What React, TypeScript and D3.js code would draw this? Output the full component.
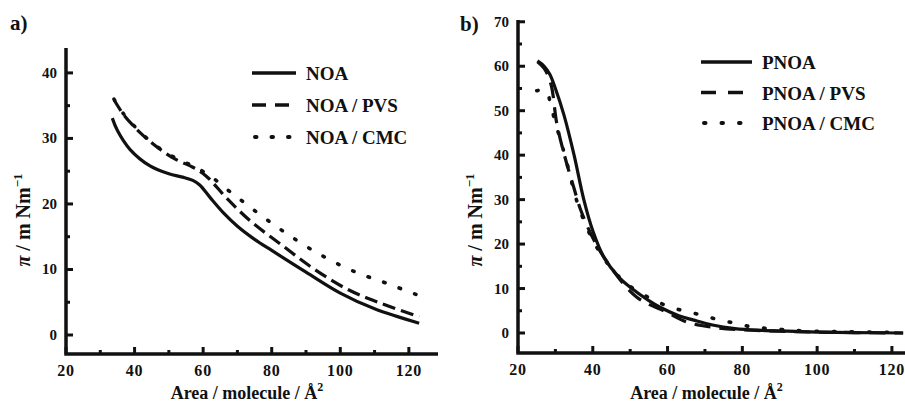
import * as d3 from 'd3';
import React from 'react';

// panel a) NOA isotherms
const noaArea = [33.5, 35, 38.7, 44.5, 50, 54, 57, 59, 62, 66, 70, 75, 80, 90, 100, 110, 123];
const noaPi = [33.1, 31.2, 28.3, 25.8, 24.6, 24.1, 23.6, 22.9, 21.0, 18.6, 16.6, 14.6, 12.9, 9.6, 6.4, 4.0, 1.8];
const noaPvsArea = [34, 37, 42, 47, 52, 57, 61, 67, 74, 83, 92, 102, 112, 123];
const noaPvsPi = [35.9, 33.5, 30.7, 28.5, 26.8, 25.6, 24.2, 20.8, 17.3, 13.7, 10.2, 7.0, 4.8, 2.8];
const noaCmcArea = [34, 37, 42, 47, 52, 57, 62, 67, 71, 76, 81, 86, 94, 104, 114, 123];
const noaCmcPi = [36, 33.6, 30.8, 28.6, 27, 25.8, 24.3, 22.2, 20.6, 18.6, 16.7, 14.9, 12.3, 9.7, 7.8, 6.0];

// panel b) PNOA isotherms
const pnoaArea = [25.2, 27, 28.5, 30, 32.3, 35, 37.6, 40, 43, 47, 50, 55, 58, 63, 67, 72, 78, 85, 92, 100, 110, 123];
const pnoaPi = [61.2, 60.0, 58.2, 55.0, 49, 40, 30, 23, 17, 12.5, 10.3, 7.3, 5.8, 3.9, 2.9, 1.8, 1.0, 0.6, 0.4, 0.2, 0.1, 0];
const pnoaPvsArea = [25.2, 27, 28.8, 30.4, 32.8, 34.9, 36.8, 40.3, 44.8, 51.7, 59.7, 65, 72, 80, 90, 100, 123];
const pnoaPvsPi = [61, 59.5, 56, 47, 38.8, 32.8, 27.6, 20.9, 14.8, 8.1, 4.7, 2.5, 1.3, 0.7, 0.4, 0.2, 0];
const pnoaCmcArea = [25, 27.5, 28.8, 30.1, 31.5, 33, 36, 40.3, 45, 50, 56.3, 61.6, 66.9, 71.7, 76.3, 81.1, 85.6, 90.4, 95.5, 105, 115, 123];
const pnoaCmcPi = [54.5, 54.5, 51, 47, 43, 38.5, 29, 20.4, 14.5, 10.5, 7.4, 5.6, 4.5, 3.4, 2.5, 1.6, 1.1, 0.8, 0.5, 0.3, 0.2, 0.1];

const xTicksA = [20, 40, 60, 80, 100, 120];
const yTicksA = [0, 10, 20, 30, 40];
const xTicksB = [20, 40, 60, 80, 100, 120];
const yTicksB = [0, 10, 20, 30, 40, 50, 60, 70];

const legendA = ['NOA', 'NOA / PVS', 'NOA / CMC'];
const legendB = ['PNOA', 'PNOA / PVS', 'PNOA / CMC'];

const FONT = '"Liberation Serif", "Times New Roman", serif';

type Series = { xs: number[]; ys: number[]; dash: string; dots?: boolean };

const Panel = ({ label, labelPos, x, y, xTicks, yTicks, minorStepY, series, legend, legendPos, legendDashes }: any) => {
  const [x0, x1] = x.range();
  const [yb, yt] = y.range();
  const line = d3
    .line<[number, number]>()
    .x((d) => x(d[0]))
    .y((d) => y(d[1]))
    .curve(d3.curveCatmullRom.alpha(0.5));

  const minorX = d3.range(30, x.domain()[1], 20);
  const minorY = d3.range(minorStepY, y.domain()[1], minorStepY * 2);

  return (
    <g fontFamily={FONT} fontWeight="bold" fill="#111">
      <text x={labelPos[0]} y={labelPos[1]} fontSize={21}>{label}</text>
      {series.map((s: Series, i: number) => (
        <path
          key={i}
          d={line(s.xs.map((v, j) => [v, s.ys[j]]) as [number, number][]) || ''}
          fill="none"
          stroke="#111"
          strokeWidth={s.dots ? 3.6 : 3.2}
          strokeDasharray={s.dash}
          strokeLinecap={s.dots ? 'round' : 'butt'}
        />
      ))}
      {/* axes */}
      <path d={`M${x0},${yt} V${yb} H${x1}`} fill="none" stroke="#111" strokeWidth={3.5} />
      {xTicks.map((t: number) => (
        <g key={'x' + t}>
          <line x1={x(t)} x2={x(t)} y1={yb} y2={yb - 7} stroke="#111" strokeWidth={3} />
          <text x={x(t)} y={yb + 22} fontSize={16} textAnchor="middle" letterSpacing={0.8}>{t}</text>
        </g>
      ))}
      {minorX.map((t: number) => (
        <line key={'mx' + t} x1={x(t)} x2={x(t)} y1={yb} y2={yb - 4} stroke="#111" strokeWidth={3} />
      ))}
      {yTicks.map((t: number) => (
        <g key={'y' + t}>
          <line x1={x0} x2={x0 + 7} y1={y(t)} y2={y(t)} stroke="#111" strokeWidth={3} />
          <text x={x0 - 9} y={y(t) + 5} fontSize={15} textAnchor="end">{t}</text>
        </g>
      ))}
      {minorY.map((t: number) => (
        <line key={'my' + t} x1={x0} x2={x0 + 4} y1={y(t)} y2={y(t)} stroke="#111" strokeWidth={3} />
      ))}
      {/* axis titles */}
      <text x={(x0 + x1) / 2 - 5} y={399} fontSize={18} textAnchor="middle">
        Area / molecule / Å<tspan fontSize={12} dy={-8}>2</tspan>
      </text>
      <text transform={`translate(${x0 - 36},${220}) rotate(-90)`} fontSize={20} textAnchor="middle">
        <tspan fontStyle="italic">π</tspan> / m Nm<tspan fontSize={13} dy={-8}>−1</tspan>
      </text>
      {/* legend */}
      {legend.map((name: string, i: number) => (
        <g key={name} transform={`translate(${legendPos[0]},${legendPos[1] + i * legendPos[2]})`}>
          <line x1={i === 2 ? 3 : 0} x2={legendPos[3]} y1={0} y2={0} stroke="#111" strokeWidth={i === 2 ? 4 : 3.5}
            strokeDasharray={legendDashes[i]} strokeLinecap={i === 2 ? 'round' : 'butt'} />
          <text x={legendPos[3] + 10} y={7} fontSize={19}>{name}</text>
        </g>
      ))}
    </g>
  );
};

const App = () => {
  const xA = d3.scaleLinear().domain([20, 128.5]).range([66, 438]);
  const yA = d3.scaleLinear().domain([-2.9, 43.8]).range([354, 48]);
  const xB = d3.scaleLinear().domain([20, 123.5]).range([518, 905]);
  const yB = d3.scaleLinear().domain([-4.5, 70.4]).range([353, 20]);

  const seriesA: Series[] = [
    { xs: noaArea, ys: noaPi, dash: '' },
    { xs: noaPvsArea, ys: noaPvsPi, dash: '13,6' },
    { xs: noaCmcArea, ys: noaCmcPi, dash: '1.5,15', dots: true },
  ];
  const seriesB: Series[] = [
    { xs: pnoaArea, ys: pnoaPi, dash: '' },
    { xs: pnoaPvsArea, ys: pnoaPvsPi, dash: '16,9' },
    { xs: pnoaCmcArea, ys: pnoaCmcPi, dash: '1.5,16', dots: true },
  ];

  return (
    <svg width={905} height={405} style={{ position: 'absolute', left: 0, top: 0, background: 'white' }}>
      <Panel label="a)" labelPos={[10, 30]} x={xA} y={yA} xTicks={xTicksA} yTicks={yTicksA} minorStepY={5}
        series={seriesA} legend={legendA} legendPos={[252, 73, 32, 44]}
        legendDashes={['', '14,9', '1.5,15']} />
      <Panel label="b)" labelPos={[460, 31]} x={xB} y={yB} xTicks={xTicksB} yTicks={yTicksB} minorStepY={5}
        series={seriesB} legend={legendB} legendPos={[701, 62, 30.5, 51]}
        legendDashes={['', '15,12', '1.5,16']} />
    </svg>
  );
};

export default App;
